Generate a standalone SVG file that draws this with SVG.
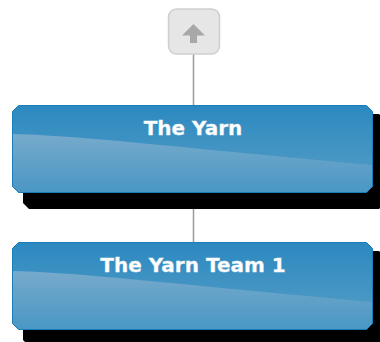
<svg xmlns="http://www.w3.org/2000/svg" width="380" height="342" viewBox="0 0 380 342">
<defs>
<linearGradient id="gTop" x1="0" y1="0" x2="0" y2="1">
<stop offset="0" stop-color="#2b89c0"/>
<stop offset="0.6" stop-color="#4796c4"/>
<stop offset="1" stop-color="#4e9ac6"/>
</linearGradient>
<linearGradient id="gGloss" x1="0" y1="0" x2="0" y2="1">
<stop offset="0" stop-color="#76aacb"/>
<stop offset="1" stop-color="#4a97c5"/>
</linearGradient>
<style>
.shadow{fill:#000}
.box{fill:url(#gTop);stroke:#1b7db8;stroke-width:1}
.gloss{fill:url(#gGloss)}
.label{font-family:"DejaVu Sans",Verdana,sans-serif;font-weight:bold;font-size:20px;fill:#fff;text-anchor:middle;stroke:#e8eef3;stroke-width:0.3}
.conn{stroke:#9a9a9a;stroke-width:1.5;fill:none}
.upbtn{fill:#e6e6e6;stroke:#cfcfcf;stroke-width:1.5}
.arrow{fill:#a8a8a8}
</style>
</defs>
<g id="connectors">
<line class="conn" x1="193.5" y1="54" x2="193.5" y2="105"/>
<line class="conn" x1="193.5" y1="193" x2="193.5" y2="242"/>
</g>
<g id="up-button">
<rect class="upbtn" x="168.5" y="9" width="51" height="45" rx="8" ry="8"/>
<path class="arrow" d="M193.5,24 L205,35.5 H197 V43 H190 V35.5 H182 Z"/>
</g>
<g id="node-the-yarn">
<path class="shadow" d="M29,114 H379 L385,120 V203 L379,209 H29 L23,203 V120 Z"/>
<path class="box" d="M18.5,105.5 H366.5 L372.5,111.5 V186.5 L366.5,192.5 H18.5 L12.5,186.5 V111.5 Z"/>
<path class="gloss" d="M13,134 C90,136 180,148 372,165 V186.3 L366.3,192 H18.7 L13,186.3 Z"/>
<text class="label" x="193" y="135">The Yarn</text>
</g>
<g id="node-the-yarn-team-1">
<path class="shadow" d="M29,251 H379 L385,257 V340 L379,346 H29 L23,340 V257 Z"/>
<path class="box" d="M18.5,242.5 H366.5 L372.5,248.5 V323.5 L366.5,329.5 H18.5 L12.5,323.5 V248.5 Z"/>
<path class="gloss" d="M13,271 C90,273 180,285 372,302 V323.3 L366.3,329 H18.7 L13,323.3 Z"/>
<text class="label" x="193" y="272">The Yarn Team 1</text>
</g>
</svg>
